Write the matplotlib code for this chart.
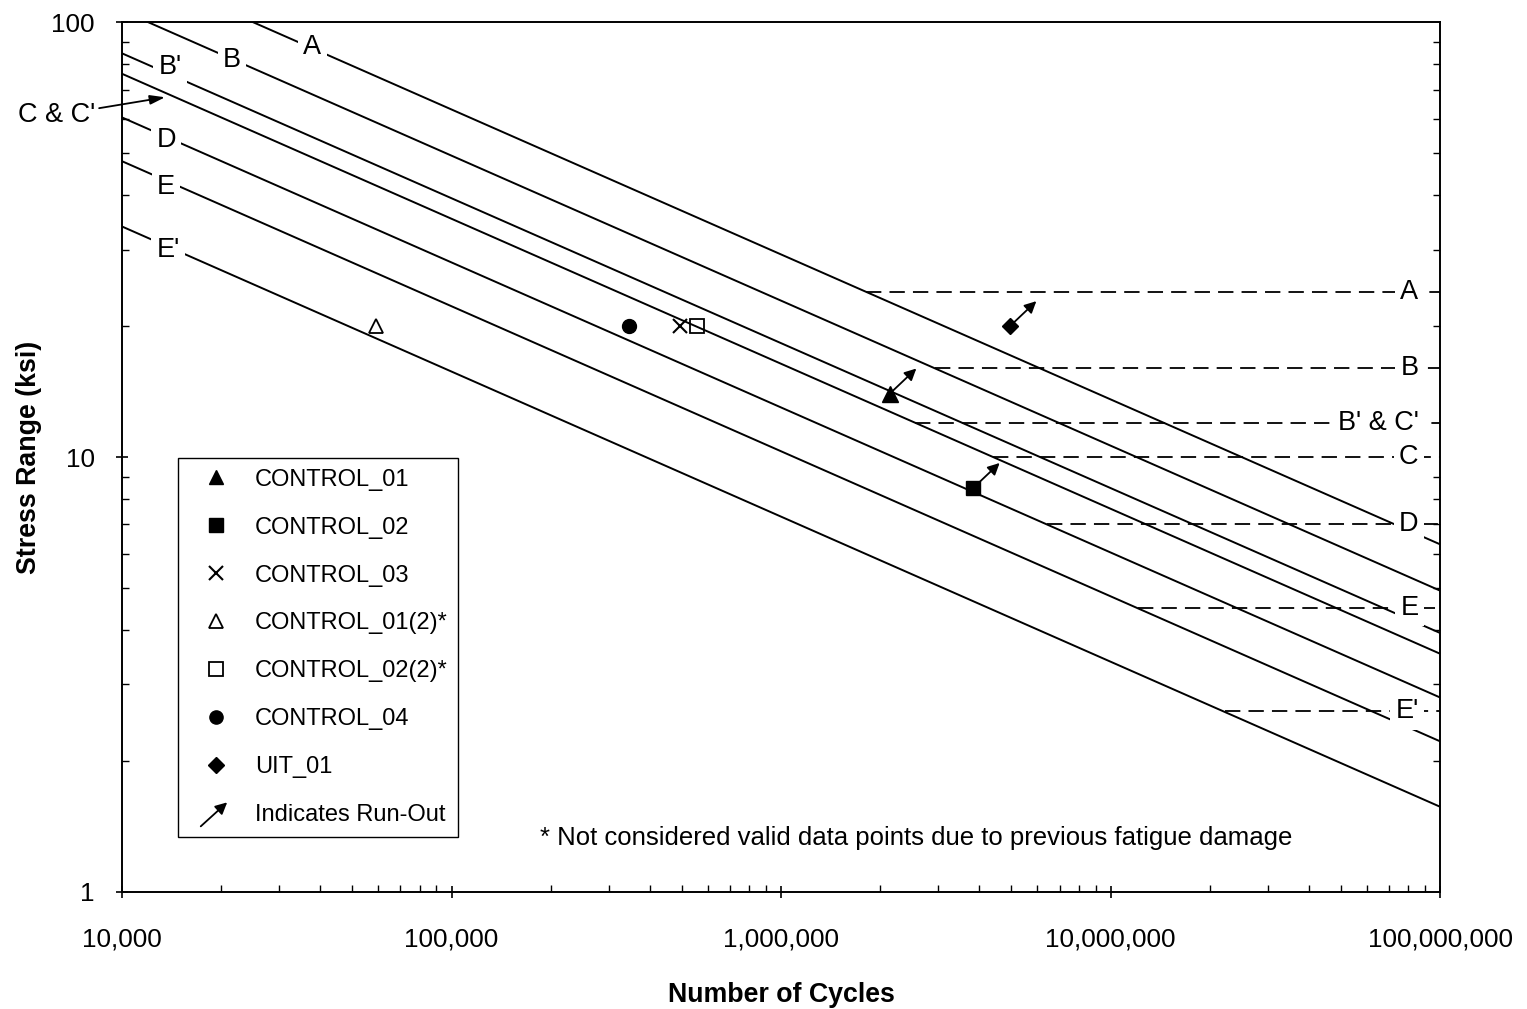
import matplotlib
matplotlib.use("Agg")
import matplotlib.pyplot as plt
from matplotlib.ticker import FuncFormatter, LogLocator, NullFormatter
from matplotlib.patches import FancyArrowPatch
from matplotlib.legend_handler import HandlerBase
from matplotlib.lines import Line2D

plt.rcParams['font.family'] = ['Liberation Sans', 'DejaVu Sans']

# S-N design curves: stress range at the ends of the cycle range
curve_names = ["A", "B", "B'", "C & C'", "D", "E", "E'"]
curve_cycles = [1e4, 1e8]
stress_at_start = [135.7, 106.3, 84.8, 76.1, 60.4, 47.9, 33.9]
stress_at_end = [6.30, 4.93, 3.94, 3.53, 2.80, 2.22, 1.57]

# constant amplitude thresholds (dashed)
cafl_names = ["A", "B", "B' & C'", "C", "D", "E", "E'"]
cafl_stress = [24, 16, 12, 10, 7, 4.5, 2.6]
cafl_start = [1.81e6, 2.93e6, 2.55e6, 4.4e6, 6.41e6, 1.21e7, 2.22e7]

# test results
ctrl01_n, ctrl01_s = [2.14e6], [14.0]
ctrl02_n, ctrl02_s = [3.83e6], [8.49]
ctrl03_n, ctrl03_s = [4.94e5], [20.0]
ctrl01b_n, ctrl01b_s = [5.9e4], [20.0]
ctrl02b_n, ctrl02b_s = [5.56e5], [20.0]
ctrl04_n, ctrl04_s = [3.46e5], [20.0]
uit01_n, uit01_s = [4.95e6], [20.0]
runout_n = [2.14e6, 3.83e6, 4.95e6]
runout_s = [14.0, 8.49, 20.0]


class HandlerArrow(HandlerBase):
    def create_artists(self, legend, orig_handle, xdescent, ydescent,
                       width, height, fontsize, trans):
        a = FancyArrowPatch((-xdescent + 0.22 * width, -ydescent - 0.3 * height),
                            (-xdescent + 0.7 * width, -ydescent + 1.15 * height),
                            arrowstyle='-|>,head_length=0.7,head_width=0.35',
                            mutation_scale=10, color='k', lw=1.3,
                            shrinkA=0, shrinkB=0, transform=trans)
        return [a]


fig = plt.figure(figsize=(15.27, 10.09), dpi=100)
ax = fig.add_axes([0.0799, 0.116, 0.8632, 0.862])
ax.set_xscale('log')
ax.set_yscale('log')
ax.set_xlim(1e4, 1e8)
ax.set_ylim(1, 100)

for s0, s1 in zip(stress_at_start, stress_at_end):
    ax.plot(curve_cycles, [s0, s1], color='k', lw=1.4, zorder=2)

for n0, s in zip(cafl_start, cafl_stress):
    ax.plot([n0, 1e8], [s, s], color='k', lw=1.3, dashes=(8.5, 4.5), zorder=2)

lab_fs = 19.5
lab_box = dict(boxstyle='square,pad=0.2', fc='white', ec='none')
txt = dict(fontsize=lab_fs, zorder=3, bbox=lab_box, va='center')

# labels on the left end of the curves
ax.text(37730, 87.6, "A", ha='center', **txt)
ax.text(21570, 81.8, "B", ha='center', **txt)
ax.text(13985, 78.8, "B'", ha='center', **txt)
ax.text(13600, 53.5, "D", ha='center', **txt)
ax.text(13600, 41.7, "E", ha='center', **txt)
ax.text(13790, 29.9, "E'", ha='center', **txt)
ax.annotate("C & C'", xy=(13510, 67.2), xycoords='data',
            xytext=(-0.0205, 0.893), textcoords='axes fraction',
            fontsize=lab_fs, ha='right', va='center', annotation_clip=False,
            arrowprops=dict(arrowstyle='-|>,head_length=0.9,head_width=0.28',
                            mutation_scale=10, color='k', lw=1.3,
                            shrinkA=1, shrinkB=0))

# threshold labels at the right
for name, s in zip(cafl_names, cafl_stress):
    ax.text(8.6e7, s, name, ha='right', **txt)

ms = 10
ax.plot(ctrl01_n, ctrl01_s, '^', color='k', ms=ms + 1, zorder=5)
ax.plot(ctrl02_n, ctrl02_s, 's', color='k', ms=ms, zorder=5)
ax.plot(ctrl03_n, ctrl03_s, 'x', color='k', ms=ms, mew=1.5, zorder=5)
ax.plot(ctrl01b_n, ctrl01b_s, '^', mfc='white', mec='k', mew=1.3, ms=ms, zorder=5)
ax.plot(ctrl02b_n, ctrl02b_s, 's', mfc='none', mec='k', mew=1.3, ms=ms, zorder=5)
ax.plot(ctrl04_n, ctrl04_s, 'o', color='k', ms=ms, zorder=5)
ax.plot(uit01_n, uit01_s, 'D', mfc='k', mec='k', ms=ms - 1.5, zorder=5)

for n, s in zip(runout_n, runout_s):
    ax.annotate('', xy=(n, s), xycoords='data', xytext=(19, 18),
                textcoords='offset points',
                arrowprops=dict(arrowstyle='<|-,head_length=0.7,head_width=0.35',
                                color='k', lw=1.3, shrinkA=0, shrinkB=3),
                zorder=4)

handles = [
    Line2D([], [], ls='none', marker='^', color='k', ms=ms),
    Line2D([], [], ls='none', marker='s', color='k', ms=ms - 0.5),
    Line2D([], [], ls='none', marker='x', color='k', ms=ms, mew=1.5),
    Line2D([], [], ls='none', marker='^', mfc='white', mec='k', mew=1.3, ms=ms),
    Line2D([], [], ls='none', marker='s', mfc='white', mec='k', mew=1.3, ms=ms - 0.5),
    Line2D([], [], ls='none', marker='o', color='k', ms=ms - 0.5),
    Line2D([], [], ls='none', marker='D', color='k', ms=ms - 2),
    FancyArrowPatch((0, 0), (1, 1)),
]
labels = ["CONTROL_01", "CONTROL_02", "CONTROL_03", "CONTROL_01(2)*",
          "CONTROL_02(2)*", "CONTROL_04", "UIT_01", "Indicates Run-Out"]
leg = ax.legend(handles, labels, loc='upper left', bbox_to_anchor=(0.0425, 0.499),
                borderaxespad=0, fontsize=17, frameon=True, fancybox=False,
                edgecolor='k', framealpha=1, handlelength=2.33, handletextpad=0.48,
                labelspacing=1.1, borderpad=0.45,
                handler_map={FancyArrowPatch: HandlerArrow()})
leg.get_frame().set_linewidth(1.0)
leg.set_zorder(6)

ax.text(1.856e5, 1.331, "* Not considered valid data points due to previous fatigue damage",
        fontsize=18.5, ha='left', va='center')

ax.xaxis.set_major_formatter(FuncFormatter(lambda v, p: f"{v:,.0f}"))
ax.yaxis.set_major_formatter(FuncFormatter(lambda v, p: f"{v:.0f}"))
ax.xaxis.set_minor_locator(LogLocator(base=10, subs=range(2, 10)))
ax.yaxis.set_minor_locator(LogLocator(base=10, subs=range(2, 10)))
ax.xaxis.set_minor_formatter(NullFormatter())
ax.yaxis.set_minor_formatter(NullFormatter())
ax.tick_params(which='major', direction='inout', length=9, width=1.2,
               labelsize=18.8)
ax.tick_params(axis='x', which='major', pad=21)
ax.tick_params(axis='y', which='major', pad=15)
ax.tick_params(which='minor', direction='in', length=5, width=1, right=True)
for sp in ax.spines.values():
    sp.set_linewidth(1.4)

ax.set_xlabel("Number of Cycles", fontsize=19.3, fontweight='bold', labelpad=22)
ax.set_ylabel("Stress Range (ksi)", fontsize=19.3, fontweight='bold', labelpad=7)

fig.savefig("out.png", dpi=100, facecolor='white')
